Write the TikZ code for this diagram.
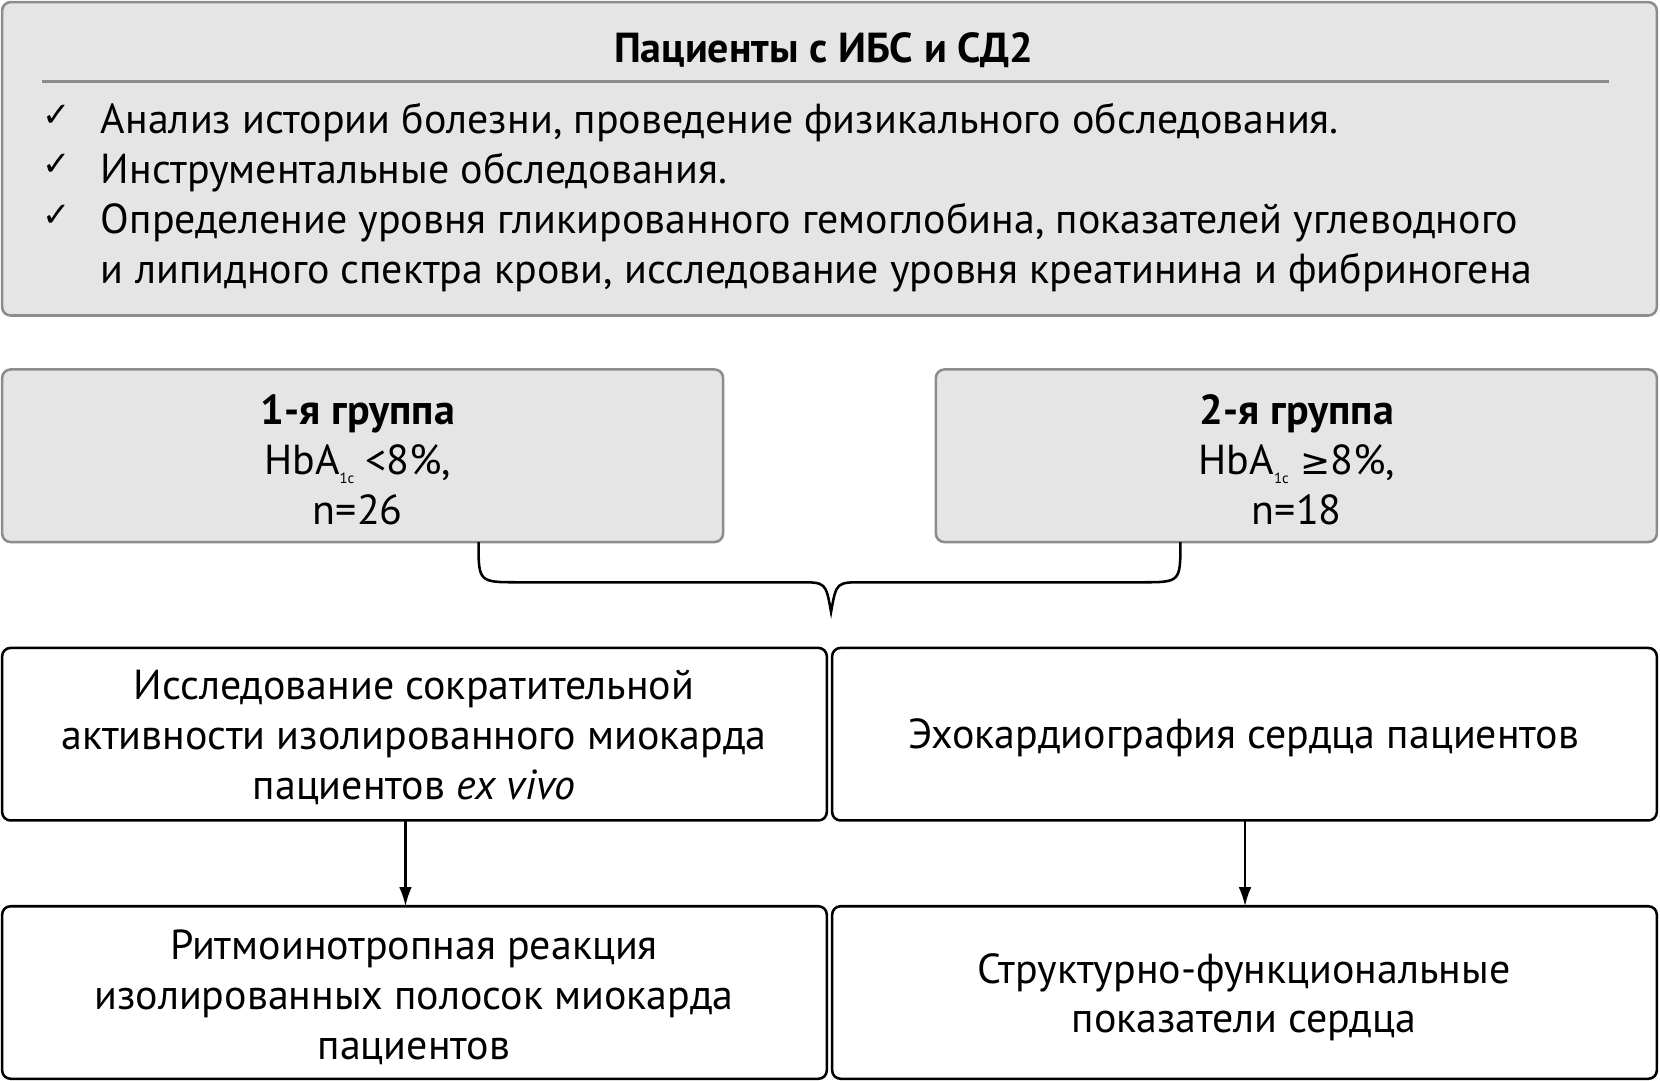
\documentclass[tikz,border=0pt]{standalone}
\usepackage{fontspec}
\setmainfont{PT Sans}
\newfontfamily\dejavu{DejaVu Sans}
\usetikzlibrary{arrows.meta}
\newcommand{\subsc}[1]{\raisebox{-0.45ex}{\scriptsize #1}}
\begin{document}
\begin{tikzpicture}[x=0.5pt,y=-0.5pt,
  gbox/.style={draw=black!45,fill=black!10,rounded corners=4pt,line width=1.2pt},
  wbox/.style={draw=black,fill=white,rounded corners=4pt,line width=1.2pt},
  txt/.style={font=\fontsize{19.8}{23.6}\selectfont,align=center},
  arr/.style={-{Latex[length=9pt,width=6pt]},line width=1.1pt}]
\useasboundingbox (0,0) rectangle (1568,1021);
\draw[gbox] (2,2) rectangle (1565,298);
\node[txt,font=\fontsize{19.8}{24}\selectfont\bfseries] (title) at (778,47) {Пациенты с ИБС и СД2};
\draw[black!45,line width=1pt] (40,77) -- (1520,77);
\foreach \y in {113,160,208}{\node[font=\dejavu\fontsize{16}{18}\selectfont] at (54,\y-4) {✓};}
\node[txt,align=left,anchor=north west,inner sep=0pt,font=\fontsize{19.8}{23.6}\selectfont] (list) at (95,97)
{Анализ истории болезни, проведение физикального обследования.\\
Инструментальные обследования.\\
Определение уровня гликированного гемоглобина, показателей углеводного\\
и липидного спектра крови, исследование уровня креатинина и фибриногена};
\draw[gbox] (2,349) rectangle (683,512);
\draw[gbox] (884,349) rectangle (1565,512);
\node[txt] (g1) at (338,434) {\textbf{1-я группа}\\HbA\subsc{1c} <8\%,\\n=26};
\node[txt] (g2) at (1225,434) {\textbf{2-я группа}\\HbA\subsc{1c} {\dejavu\fontsize{17}{20}\selectfont≥}8\%,\\n=18};
\draw[line width=1.2pt] (452,512) .. controls (452,550) .. (490,550) -- (755,550) .. controls (780,550) .. (785,578)
  .. controls (790,550) .. (815,550) -- (1078,550) .. controls (1115,550) .. (1115,512);
\draw[wbox] (2,612) rectangle (781,775);
\draw[wbox] (786,612) rectangle (1565,775);
\draw[wbox] (2,856) rectangle (781,1019);
\draw[wbox] (786,856) rectangle (1565,1019);
\node[txt] (a) at (391,697) {Исследование сократительной\\активности изолированного миокарда\\пациентов \textit{ex vivo}};
\node[txt] (b) at (1175,697) {Эхокардиография сердца пациентов};
\node[txt] (c) at (391,942) {Ритмоинотропная реакция\\изолированных полосок миокарда\\пациентов};
\node[txt] (d) at (1175,942) {Структурно-функциональные\\показатели сердца};
\coordinate (a1) at (383,775); \coordinate (a2) at (383,856);
\coordinate (b1) at (1176,775); \coordinate (b2) at (1176,856);
\draw[arr] (a1) -- (a2);
\draw[arr] (b1) -- (b2);
\end{tikzpicture}
\end{document}
